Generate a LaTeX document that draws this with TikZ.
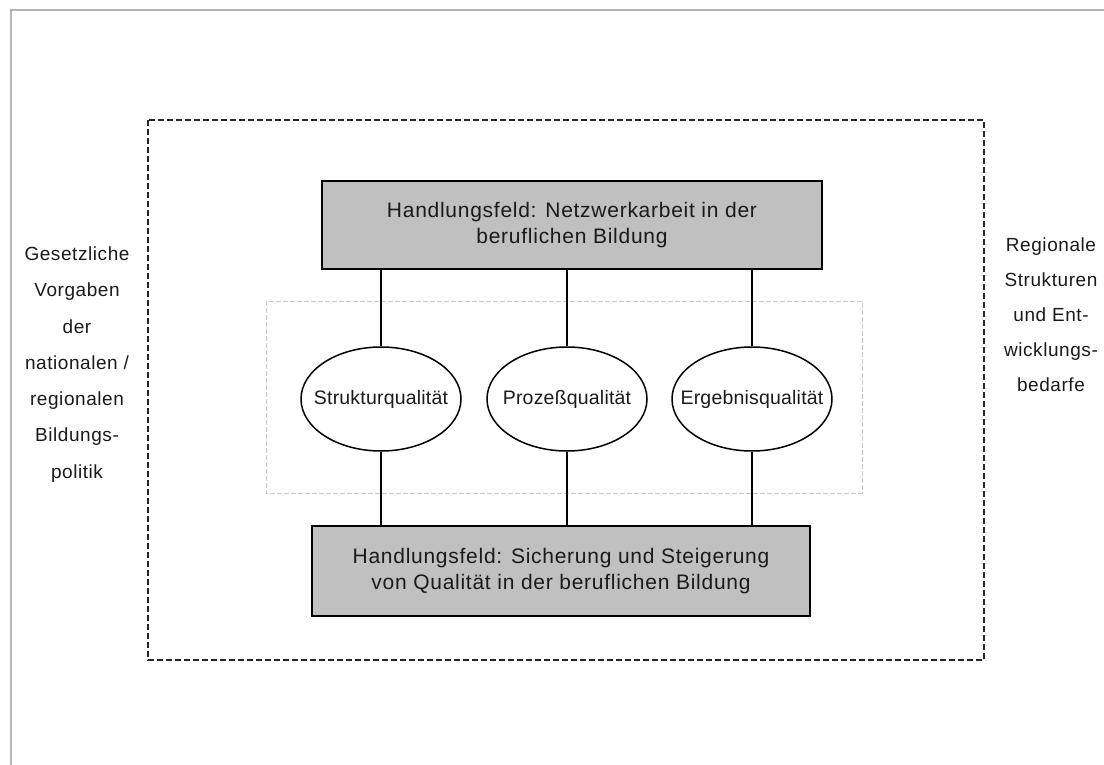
\documentclass[tikz,border=0pt]{standalone}
\usepackage{fontspec}
\setmainfont{Liberation Sans}
\usetikzlibrary{shapes.geometric}
\definecolor{boxgray}{HTML}{C0C0C0}
\definecolor{framegray}{HTML}{B4B4B4}
\definecolor{innergray}{HTML}{C8C8C8}
\definecolor{txt}{HTML}{1A1A1A}
\begin{document}
\begin{tikzpicture}[x=1pt,y=-1pt,
  field/.style={draw=black, line width=1.6pt, fill=boxgray, rectangle, inner sep=0pt, align=center, text=txt,
    font=\fontsize{21}{25.5}\selectfont\addfontfeature{LetterSpace=3.5}},
  quality/.style={draw=black, line width=1.5pt, ellipse, minimum width=160pt, minimum height=104pt,
    inner ysep=0pt, inner xsep=-30pt, text=txt,
    font=\fontsize{19.5}{22}\selectfont\addfontfeature{LetterSpace=1}},
  side/.style={anchor=base, inner sep=0pt, text=txt, font=\fontsize{19}{22}\selectfont\addfontfeature{LetterSpace=3}},
  link/.style={line width=1.5pt, draw=black},
  outerframe/.style={draw=black!85, line width=1.4pt, dash pattern=on 6pt off 3pt},
  innerframe/.style={draw=innergray, line width=1pt, dash pattern=on 5pt off 2pt},
  pageframe/.style={draw=framegray, line width=1.4pt},
]
\useasboundingbox (0,0) rectangle (1104,765);
% page frame lines
\draw[pageframe] (11,765) -- (11,10) -- (1104,10);
% outer dashed frame
\draw[outerframe] (148,120) rectangle (984,660);
% inner light gray frame
\draw[innerframe] (266,301) rectangle (862,493);
% fields
\node[field, minimum width=500pt, minimum height=88pt] (top) at (572,225)
  {Handlungsfeld: Netzwerkarbeit in der\\beruflichen Bildung};
\node[field, minimum width=498pt, minimum height=90pt] (bottom) at (561,571)
  {Handlungsfeld: Sicherung und Steigerung\\von Qualität in der beruflichen Bildung};
% quality ellipses
\node[quality] (e1) at (381,399) {Strukturqualität};
\node[quality] (e2) at (567,399) {Prozeßqualität};
\node[quality] (e3) at (752,399) {Ergebnisqualität};
% connectors
\foreach \e in {e1,e2,e3}{
  \draw[link] (\e.north) -- (\e.north |- top.south);
  \draw[link] (\e.south) -- (\e.south |- bottom.north);
}
% side texts
\foreach \t [count=\i] in {Gesetzliche, Vorgaben, der, nationalen /, regionalen, Bildungs-, politik}
  \node[side] (L\i) at (77, {260.5+36.25*(\i-1)}) {\t};
\foreach \t [count=\i] in {Regionale, Strukturen, und Ent-, wicklungs-, bedarfe}
  \node[side] (R\i) at (1051, {251.7+35*(\i-1)}) {\t};
\end{tikzpicture}
\end{document}
